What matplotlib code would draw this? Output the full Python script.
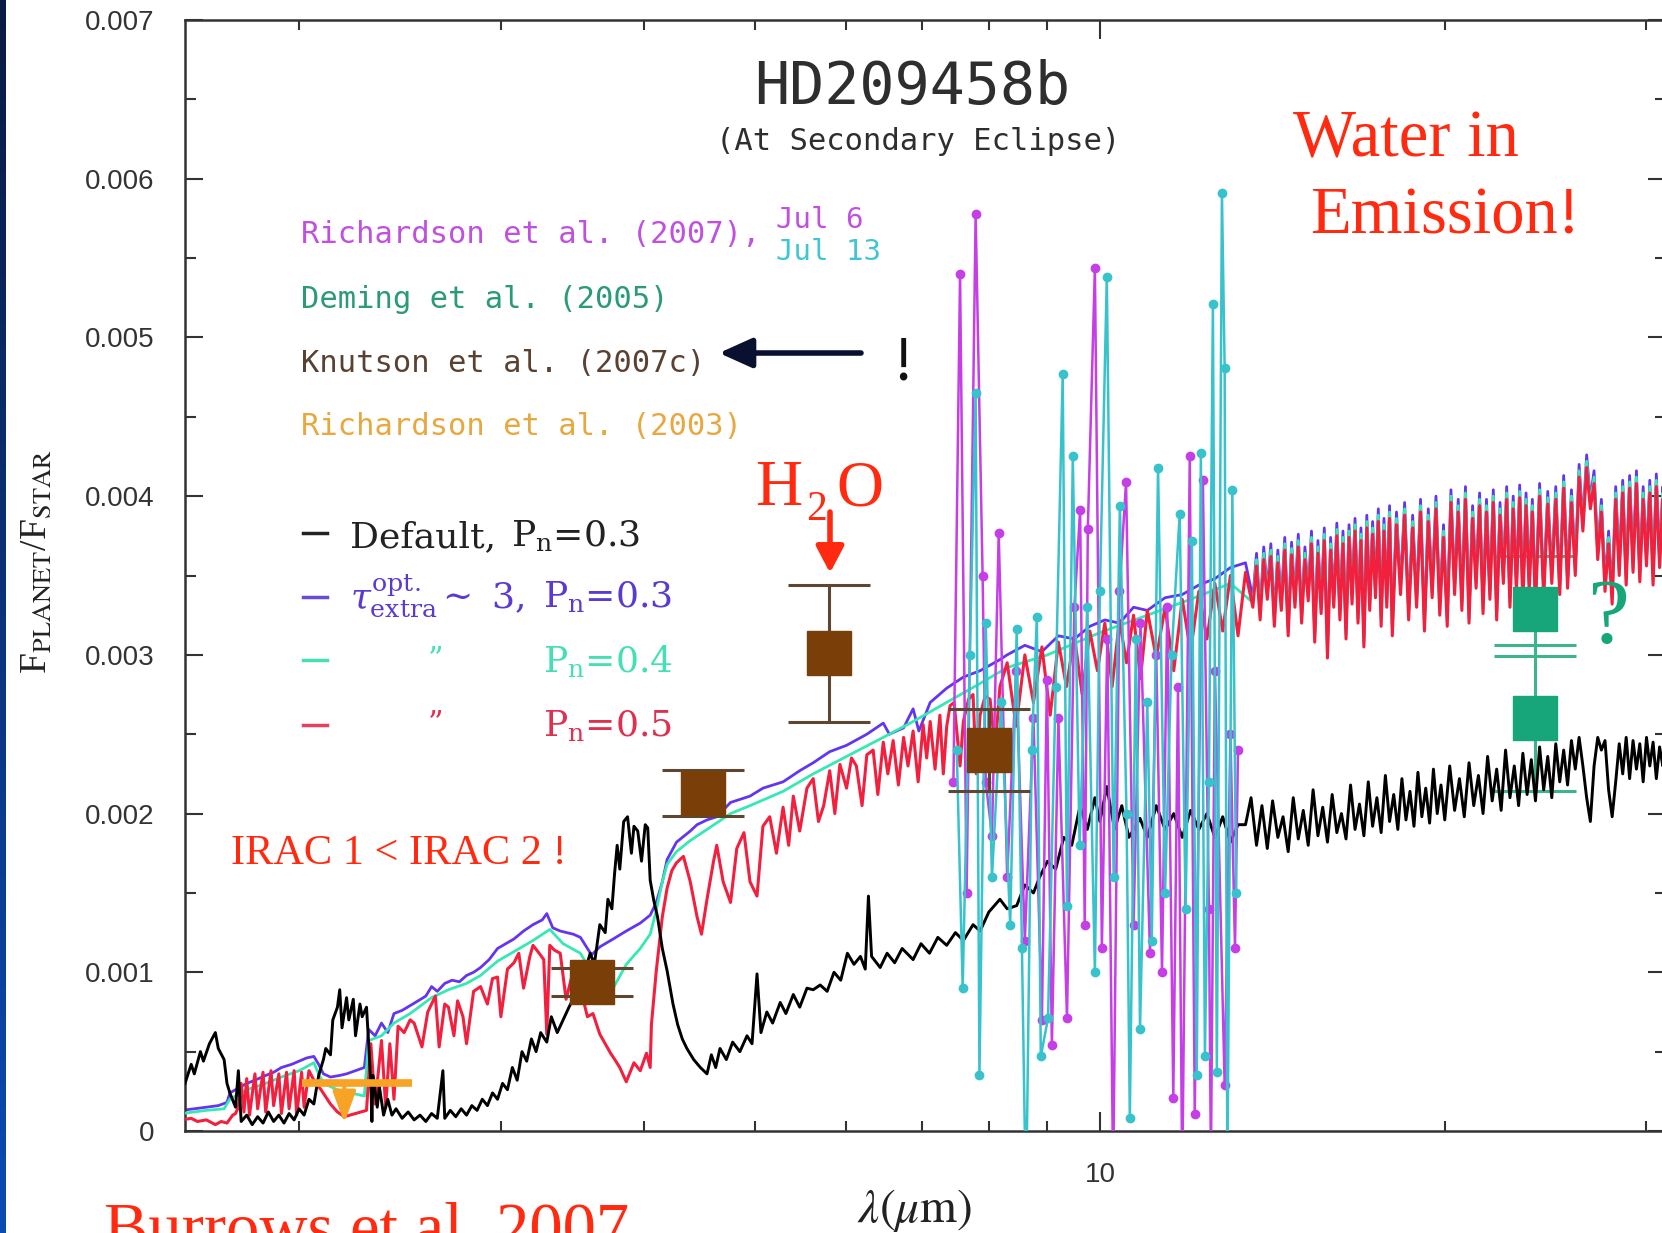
import numpy as np
import matplotlib
matplotlib.use("Agg")
import matplotlib.pyplot as plt
from matplotlib.lines import Line2D
from matplotlib.colors import LinearSegmentedColormap
from matplotlib.ticker import MultipleLocator, NullFormatter, FixedLocator

W, H = 1662, 1233

# ---------------- model spectra (flux ratio in units of 1e-3) ----------------
# Default model, P_n = 0.3
wl_default = [1.59, 1.61, 1.62, 1.64, 1.65, 1.67, 1.69, 1.70, 1.72, 1.73,
              1.74, 1.76, 1.77, 1.78, 1.80, 1.82, 1.84, 1.86, 1.88, 1.90,
              1.92, 1.94, 1.96, 1.98, 2.00, 2.02, 2.04, 2.06, 2.08, 2.10,
              2.11, 2.13, 2.14, 2.16, 2.17, 2.18, 2.20, 2.21, 2.23, 2.24,
              2.26, 2.27, 2.29, 2.30, 2.31, 2.315, 2.32, 2.34, 2.35, 2.37,
              2.39, 2.41, 2.43, 2.46, 2.49, 2.52, 2.55, 2.58, 2.61, 2.64,
              2.67, 2.68, 2.71, 2.74, 2.77, 2.80, 2.83, 2.86, 2.89, 2.92,
              2.95, 2.98, 3.01, 3.04, 3.07, 3.10, 3.13, 3.16, 3.19, 3.22,
              3.25, 3.29, 3.32, 3.36, 3.40, 3.44, 3.48, 3.52, 3.55, 3.59,
              3.62, 3.66, 3.70, 3.72, 3.75, 3.77, 3.79, 3.81, 3.84, 3.87,
              3.90, 3.92, 3.95, 3.98, 4.01, 4.03, 4.05, 4.08, 4.11, 4.15,
              4.19, 4.24, 4.28, 4.32, 4.36, 4.42, 4.48, 4.54, 4.58, 4.62,
              4.66, 4.72, 4.78, 4.85, 4.92, 4.97, 5.02, 5.06, 5.12, 5.18,
              5.26, 5.32, 5.40, 5.47, 5.55, 5.62, 5.70, 5.78, 5.86, 5.94,
              6.02, 6.10, 6.18, 6.24, 6.28, 6.32, 6.43, 6.52, 6.62, 6.72,
              6.87, 6.98, 7.10, 7.22, 7.35, 7.48, 7.60, 7.75, 7.86, 8.00,
              8.18, 8.30, 8.46, 8.60, 8.75, 8.86, 9.00, 9.15, 9.30, 9.45,
              9.61, 9.75, 9.90, 10.00, 10.14, 10.30, 10.45, 10.60, 10.84, 11.00,
              11.20, 11.40, 11.60, 11.80, 12.00, 12.20, 12.40, 12.60, 12.80, 13.00,
              13.20,
              13.40, 13.55, 13.70, 13.85, 14.00, 14.15, 14.30, 14.45, 14.60, 14.75,
              14.90, 15.05, 15.20, 15.35, 15.50, 15.65, 15.80, 15.95, 16.10, 16.25,
              16.40, 16.55, 16.70, 16.85, 17.00, 17.15, 17.30, 17.45, 17.60, 17.75,
              17.90, 18.05, 18.20, 18.35, 18.50, 18.65, 18.80, 18.95, 19.10, 19.25,
              19.40, 19.55, 19.70, 19.85, 20.00, 20.20, 20.40, 20.60, 20.80, 21.00,
              21.20, 21.40, 21.60, 21.80, 22.00, 22.20, 22.40, 22.60, 22.80, 23.00,
              23.20, 23.40, 23.60, 23.80, 24.00, 24.20, 24.40, 24.60, 24.80, 25.00,
              25.20, 25.40, 25.60, 25.80, 26.00, 26.20, 26.40, 26.60, 26.80, 27.00,
              27.20, 27.40, 27.60, 27.80, 28.00, 28.20, 28.40, 28.60, 28.80, 29.00,
              29.20, 29.40, 29.60, 29.80, 30.00, 30.20, 30.40, 30.60, 30.80, 31.00,
              31.20]
f_default = [0.30, 0.42, 0.36, 0.50, 0.44, 0.55, 0.62, 0.52, 0.45, 0.30,
             0.24, 0.15, 0.38, 0.06, 0.10, 0.04, 0.09, 0.05, 0.12, 0.06,
             0.10, 0.05, 0.11, 0.07, 0.14, 0.10, 0.20, 0.17, 0.35, 0.45,
             0.52, 0.48, 0.70, 0.78, 0.89, 0.65, 0.84, 0.70, 0.83, 0.60,
             0.80, 0.72, 0.78, 0.55, 0.30, 0.06, 0.35, 0.15, 0.28, 0.10,
             0.20, 0.10, 0.14, 0.08, 0.12, 0.07, 0.10, 0.06, 0.11, 0.08,
             0.38, 0.08, 0.13, 0.09, 0.14, 0.10, 0.16, 0.13, 0.20, 0.16,
             0.24, 0.20, 0.30, 0.26, 0.40, 0.32, 0.50, 0.44, 0.58, 0.50,
             0.62, 0.56, 0.72, 0.62, 0.70, 0.78, 0.85, 0.92, 1.00, 1.12,
             1.05, 1.30, 1.25, 1.46, 1.40, 1.62, 1.80, 1.65, 1.95, 1.98,
             1.75, 1.92, 1.89, 1.70, 1.93, 1.91, 1.58, 1.45, 1.35, 1.15,
             1.01, 0.80, 0.67, 0.58, 0.52, 0.45, 0.40, 0.36, 0.48, 0.40,
             0.52, 0.45, 0.56, 0.50, 0.60, 0.55, 0.99, 0.62, 0.75, 0.68,
             0.81, 0.74, 0.86, 0.78, 0.90, 0.89, 0.92, 0.88, 1.00, 0.95,
             1.12, 1.05, 1.10, 1.02, 1.48, 1.10, 1.03, 1.12, 1.06, 1.15,
             1.08, 1.18, 1.12, 1.22, 1.17, 1.25, 1.20, 1.30, 1.26, 1.38,
             1.46, 1.40, 1.42, 1.55, 1.50, 1.60, 1.70, 1.65, 1.85, 1.80,
             2.05, 1.90, 2.10, 1.95, 2.17, 1.90, 2.05, 1.85, 1.97, 1.85,
             2.05, 1.90, 2.00, 1.85, 2.02, 1.90, 2.00, 1.85, 1.98, 1.82,
             1.93,
             1.93, 2.10, 1.80, 2.05, 1.78, 2.08, 1.85, 1.98, 1.76, 2.10,
             1.84, 2.02, 1.80, 2.15, 1.86, 2.04, 1.82, 2.12, 1.88, 2.00,
             1.84, 2.18, 1.90, 2.06, 1.86, 2.20, 1.92, 2.10, 1.88, 2.24,
             1.95, 2.12, 1.90, 2.22, 1.96, 2.14, 1.92, 2.26, 1.98, 2.16,
             1.94, 2.28, 2.00, 2.18, 1.96, 2.30, 2.02, 2.22, 1.98, 2.32,
             2.05, 2.24, 2.00, 2.36, 2.08, 2.28, 2.02, 2.40, 2.10, 2.30,
             2.05, 2.38, 2.12, 2.34, 2.08, 2.42, 2.15, 2.36, 2.10, 2.44,
             2.20, 2.40, 2.18, 2.46, 2.28, 2.48, 2.30, 2.10, 1.95, 2.30,
             2.48, 2.40, 2.46, 2.15, 1.98, 2.20, 2.44, 2.25, 2.48, 2.22,
             2.46, 2.28, 2.44, 2.20, 2.48, 2.30, 2.45, 2.22, 2.42, 2.30,
             2.40]

# shared wavelength grid for the long-wavelength part of the tau_extra models
wl_band = [13.6, 13.7, 13.8, 13.9, 14.0, 14.1, 14.2, 14.3, 14.4, 14.5,
           14.6, 14.7, 14.8, 14.9, 15.0, 15.1, 15.2, 15.3, 15.4, 15.5,
           15.6, 15.7, 15.8, 15.9, 16.0, 16.1, 16.2, 16.3, 16.4, 16.5,
           16.6, 16.7, 16.8, 16.9, 17.0, 17.1, 17.2, 17.3, 17.4, 17.5,
           17.6, 17.7, 17.8, 17.9, 18.0, 18.15, 18.3, 18.45, 18.6, 18.75,
           18.9, 19.05, 19.2, 19.35, 19.5, 19.65, 19.8, 19.95, 20.1, 20.25,
           20.4, 20.55, 20.7, 20.85, 21.0, 21.15, 21.3, 21.45, 21.6, 21.75,
           21.9, 22.05, 22.2, 22.35, 22.5, 22.65, 22.8, 22.95, 23.1, 23.25,
           23.4, 23.55, 23.7, 23.85, 24.0, 24.2, 24.4, 24.6, 24.8, 25.0,
           25.2, 25.4, 25.6, 25.8, 26.0, 26.2, 26.4, 26.6, 26.8, 27.0,
           27.2, 27.4, 27.6, 27.8, 28.0, 28.2, 28.4, 28.6, 28.8, 29.0,
           29.2, 29.4, 29.6, 29.8, 30.0, 30.2, 30.4, 30.6, 30.8, 31.0,
           31.2]

# tau_extra ~ 3, P_n = 0.5
wl_pn05 = [1.58, 1.61, 1.63, 1.66, 1.69, 1.71, 1.73, 1.75, 1.76, 1.77,
           1.78, 1.79, 1.80, 1.81, 1.83, 1.84, 1.86, 1.87, 1.89, 1.90,
           1.92, 1.93, 1.95, 1.96, 1.98, 1.99, 2.01, 2.02, 2.04, 2.06,
           2.09, 2.13, 2.16, 2.19, 2.24, 2.29, 2.31, 2.33, 2.36, 2.38,
           2.40, 2.42, 2.44, 2.47, 2.50, 2.52, 2.56, 2.59, 2.63, 2.65,
           2.68, 2.70, 2.73, 2.75, 2.78, 2.80, 2.84, 2.88, 2.92, 2.95,
           2.98, 3.00, 3.04, 3.08, 3.11, 3.14, 3.18, 3.20, 3.24, 3.27,
           3.29, 3.31, 3.34, 3.38, 3.42, 3.47, 3.52, 3.57, 3.61, 3.66,
           3.70, 3.74, 3.78, 3.81, 3.86, 3.92, 3.97, 4.02, 4.05, 4.06,
           4.10, 4.15, 4.19, 4.23, 4.27, 4.33, 4.39, 4.45, 4.49, 4.54,
           4.60, 4.63, 4.69, 4.76, 4.82, 4.89, 4.95, 5.02, 5.08, 5.15,
           5.22, 5.29, 5.35, 5.40, 5.47, 5.55, 5.62, 5.68, 5.74, 5.81,
           5.87, 5.93, 6.01, 6.07, 6.13, 6.20, 6.26, 6.34, 6.40, 6.47,
           6.53, 6.60, 6.67, 6.74, 6.80, 6.87, 6.94, 7.01, 7.06, 7.11,
           7.18, 7.25, 7.30, 7.35, 7.40, 7.46, 7.55, 7.60, 7.68, 7.75,
           7.80, 7.86, 7.94, 8.02, 8.10, 8.18, 8.30, 8.45, 8.60, 8.75,
           8.90, 9.05, 9.20, 9.35, 9.50, 9.65, 9.80, 9.95, 10.10, 10.25,
           10.40, 10.55, 10.70, 10.85, 11.00, 11.20, 11.40, 11.60, 11.80, 12.00,
           12.20, 12.40, 12.60, 12.80, 13.00, 13.20, 13.40]
f_pn05 = [0.07, 0.08, 0.06, 0.07, 0.04, 0.06, 0.05, 0.10, 0.11, 0.15,
          0.30, 0.12, 0.33, 0.10, 0.36, 0.14, 0.37, 0.12, 0.38, 0.16,
          0.36, 0.11, 0.37, 0.14, 0.38, 0.10, 0.37, 0.15, 0.38, 0.32,
          0.26, 0.17, 0.12, 0.09, 0.11, 0.13, 0.55, 0.17, 0.57, 0.15,
          0.55, 0.20, 0.66, 0.62, 0.70, 0.68, 0.53, 0.75, 0.85, 0.53,
          0.80, 0.78, 0.60, 0.82, 0.72, 0.55, 0.88, 0.91, 0.80, 0.96,
          0.97, 0.72, 1.02, 1.06, 1.12, 0.90, 1.10, 1.17, 1.12, 1.08,
          0.61, 1.17, 1.14, 1.12, 0.83, 1.01, 0.90, 0.72, 0.74, 0.61,
          0.55, 0.49, 0.44, 0.40, 0.31, 0.43, 0.38, 0.49, 0.40, 0.67,
          1.01, 1.35, 1.53, 1.64, 1.69, 1.73, 1.57, 1.35, 1.24, 1.46,
          1.70, 1.80, 1.57, 1.44, 1.78, 1.88, 1.57, 1.48, 1.92, 1.98,
          1.75, 2.04, 1.80, 2.11, 1.89, 2.16, 2.22, 1.95, 2.05, 2.27,
          2.00, 2.31, 2.16, 2.35, 2.30, 2.05, 2.37, 2.40, 2.12, 2.45,
          2.25, 2.46, 2.18, 2.48, 2.30, 2.52, 2.20, 2.56, 2.35, 2.58,
          2.28, 2.62, 2.25, 2.55, 2.68, 2.70, 2.30, 2.58, 2.72, 2.75,
          2.25, 2.62, 2.74, 2.72, 2.40, 2.80, 2.95, 2.55, 3.00, 2.70,
          3.05, 2.62, 3.08, 2.80, 3.12, 2.75, 3.15, 2.90, 3.20, 2.80,
          3.22, 2.95, 3.25, 2.85, 3.28, 2.98, 3.30, 2.90, 3.35, 3.02,
          3.40, 3.10, 3.45, 3.15, 3.50, 3.12, 3.52]
f_pn05_band = [3.30, 3.56, 3.22, 3.60, 3.35, 3.62, 3.18, 3.58, 3.28, 3.66,
               3.12, 3.63, 3.30, 3.68, 3.20, 3.60, 3.34, 3.70, 3.08, 3.64,
               3.26, 3.72, 2.98, 3.66, 3.30, 3.75, 3.22, 3.70, 3.10, 3.74,
               3.32, 3.78, 3.20, 3.72, 3.05, 3.80, 3.28, 3.76, 3.36, 3.84,
               3.18, 3.78, 3.30, 3.86, 3.12, 3.82, 3.38, 3.88, 3.22, 3.80,
               3.30, 3.90, 3.15, 3.84, 3.36, 3.92, 3.25, 3.74, 3.18, 3.96,
               3.38, 3.90, 3.28, 3.98, 3.20, 3.86, 3.42, 3.94, 3.26, 3.90,
               3.35, 3.96, 3.22, 3.88, 3.45, 3.98, 3.30, 3.92, 3.40, 3.99,
               3.32, 3.94, 3.40, 3.90, 3.30, 4.00, 3.36, 3.95, 3.45, 3.98,
               3.38, 4.05, 3.42, 3.96, 3.50, 4.12, 3.78, 4.18, 3.92, 4.08,
               3.60, 3.90, 3.40, 3.70, 3.32, 3.98, 3.50, 4.02, 3.44, 4.05,
               3.52, 4.08, 3.46, 3.98, 3.56, 4.02, 3.44, 4.06, 3.55, 3.98,
               3.62]

# tau_extra ~ 3, P_n = 0.3
wl_tau = [1.58, 1.62, 1.66, 1.70, 1.73, 1.74, 1.77, 1.80, 1.83, 1.87,
          1.90, 1.93, 1.97, 2.00, 2.03, 2.06, 2.08, 2.10, 2.13, 2.17,
          2.20, 2.24, 2.28, 2.30, 2.33, 2.36, 2.39, 2.42, 2.46, 2.50,
          2.54, 2.58, 2.61, 2.64, 2.68, 2.72, 2.76, 2.80, 2.84, 2.88,
          2.93, 2.98, 3.03, 3.08, 3.14, 3.20, 3.26, 3.29, 3.33, 3.38,
          3.47, 3.52, 3.57, 3.60, 3.66, 3.76, 3.86, 3.97, 4.05, 4.10,
          4.15, 4.19, 4.27, 4.39, 4.45, 4.54, 4.63, 4.76, 4.95, 5.08,
          5.29, 5.47, 5.62, 5.81, 6.01, 6.26, 6.47, 6.55, 6.74, 6.87,
          6.95, 7.11, 7.35, 7.60, 7.86, 8.18, 8.30, 8.60, 8.90, 9.20,
          9.50, 9.80, 10.10, 10.40, 10.70, 11.00, 11.40, 11.80, 12.20, 12.60,
          13.00, 13.40]
f_tau = [0.13, 0.14, 0.15, 0.16, 0.18, 0.24, 0.27, 0.30, 0.32, 0.35,
         0.37, 0.40, 0.42, 0.44, 0.46, 0.47, 0.42, 0.36, 0.34, 0.35,
         0.36, 0.38, 0.40, 0.64, 0.60, 0.68, 0.62, 0.74, 0.76, 0.79,
         0.82, 0.85, 0.91, 0.88, 0.93, 0.95, 0.94, 0.98, 1.00, 1.03,
         1.08, 1.15, 1.18, 1.21, 1.26, 1.30, 1.33, 1.37, 1.28, 1.26,
         1.24, 1.22, 1.15, 1.11, 1.16, 1.21, 1.26, 1.31, 1.36, 1.44,
         1.57, 1.71, 1.82, 1.89, 1.93, 1.96, 1.98, 2.07, 2.11, 2.16,
         2.20, 2.27, 2.32, 2.39, 2.43, 2.50, 2.57, 2.50, 2.54, 2.66,
         2.52, 2.70, 2.79, 2.86, 2.90, 2.97, 3.00, 3.06, 3.02, 3.12,
         3.10, 3.18, 3.22, 3.20, 3.30, 3.28, 3.36, 3.38, 3.44, 3.48,
         3.55, 3.58]
f_tau_band = [3.36, 3.64, 3.28, 3.68, 3.41, 3.70, 3.24, 3.66, 3.34, 3.74,
              3.18, 3.71, 3.36, 3.76, 3.26, 3.68, 3.40, 3.78, 3.14, 3.72,
              3.32, 3.80, 3.04, 3.74, 3.36, 3.83, 3.28, 3.78, 3.16, 3.82,
              3.38, 3.86, 3.26, 3.80, 3.11, 3.88, 3.34, 3.84, 3.42, 3.92,
              3.24, 3.86, 3.36, 3.94, 3.18, 3.90, 3.44, 3.96, 3.28, 3.88,
              3.36, 3.98, 3.21, 3.92, 3.42, 4.00, 3.31, 3.82, 3.24, 4.04,
              3.44, 3.98, 3.34, 4.06, 3.26, 3.94, 3.48, 4.02, 3.32, 3.98,
              3.41, 4.04, 3.28, 3.96, 3.51, 4.06, 3.36, 4.00, 3.46, 4.07,
              3.38, 4.02, 3.46, 3.98, 3.36, 4.08, 3.42, 4.03, 3.51, 4.06,
              3.44, 4.13, 3.48, 4.04, 3.56, 4.20, 3.84, 4.26, 3.98, 4.16,
              3.66, 3.98, 3.46, 3.78, 3.38, 4.06, 3.56, 4.10, 3.50, 4.13,
              3.58, 4.16, 3.52, 4.06, 3.62, 4.10, 3.50, 4.14, 3.61, 4.06,
              3.68]

# tau_extra ~ 3, P_n = 0.4
wl_pn04 = [1.58, 1.66, 1.72, 1.74, 1.80, 1.87, 1.93, 2.00, 2.06, 2.08,
           2.10, 2.16, 2.22, 2.28, 2.30, 2.36, 2.42, 2.50, 2.61, 2.70,
           2.80, 2.88, 2.98, 3.08, 3.20, 3.31, 3.40, 3.52, 3.60, 3.66,
           3.76, 3.86, 3.97, 4.05, 4.10, 4.15, 4.19, 4.27, 4.39, 4.54,
           4.76, 4.95, 5.29, 5.62, 6.01, 6.47, 6.87, 7.35, 7.86, 8.30,
           9.00, 10.00, 11.00, 12.00, 13.00]
f_pn04 = [0.11, 0.13, 0.14, 0.20, 0.26, 0.30, 0.34, 0.38, 0.43, 0.36,
          0.30, 0.26, 0.24, 0.22, 0.57, 0.60, 0.68, 0.74, 0.84, 0.89,
          0.93, 0.98, 1.07, 1.13, 1.20, 1.27, 1.18, 1.12, 1.00, 0.92,
          0.90, 1.05, 1.15, 1.24, 1.39, 1.57, 1.68, 1.76, 1.83, 1.90,
          2.00, 2.05, 2.14, 2.25, 2.36, 2.48, 2.58, 2.70, 2.82, 2.92,
          3.00, 3.14, 3.25, 3.35, 3.45]
f_pn04_band = [3.33, 3.60, 3.25, 3.64, 3.38, 3.66, 3.21, 3.62, 3.31, 3.70,
               3.15, 3.67, 3.33, 3.72, 3.23, 3.64, 3.37, 3.74, 3.11, 3.68,
               3.29, 3.76, 3.01, 3.70, 3.33, 3.79, 3.25, 3.74, 3.13, 3.78,
               3.35, 3.82, 3.23, 3.76, 3.08, 3.84, 3.31, 3.80, 3.39, 3.88,
               3.21, 3.82, 3.33, 3.90, 3.15, 3.86, 3.41, 3.92, 3.25, 3.84,
               3.33, 3.94, 3.18, 3.88, 3.39, 3.96, 3.28, 3.78, 3.21, 4.00,
               3.41, 3.94, 3.31, 4.02, 3.23, 3.90, 3.45, 3.98, 3.29, 3.94,
               3.38, 4.00, 3.25, 3.92, 3.48, 4.02, 3.33, 3.96, 3.43, 4.03,
               3.35, 3.98, 3.43, 3.94, 3.33, 4.04, 3.39, 3.99, 3.48, 4.02,
               3.41, 4.09, 3.45, 4.00, 3.53, 4.16, 3.81, 4.22, 3.95, 4.12,
               3.63, 3.94, 3.43, 3.74, 3.35, 4.02, 3.53, 4.06, 3.47, 4.09,
               3.55, 4.12, 3.49, 4.02, 3.59, 4.06, 3.47, 4.10, 3.58, 4.02,
               3.65]

# ---------------- observations ----------------
# Richardson et al. (2007) IRS spectra
wl_rich_jul6 = [7.45, 7.55, 7.65, 7.79, 7.90, 7.95, 8.05, 8.16, 8.30, 8.45,
                8.60, 8.75, 8.90, 8.99, 9.08, 9.20, 9.36, 9.50, 9.61, 9.70,
                9.76, 9.90, 10.04, 10.15, 10.27, 10.40, 10.54, 10.70, 10.85, 11.06,
                11.20, 11.33, 11.45, 11.59, 11.70, 11.80, 11.98, 12.10, 12.30, 12.45,
                12.50, 12.60, 12.85, 13.00, 13.12, 13.20]
f_rich_jul6 = [2.20, 5.40, 1.50, 5.78, 3.50, 2.20, 1.86, 3.77, 1.60, 2.90,
               1.20, 2.60, 0.70, 2.84, 0.54, 2.60, 0.71, 3.30, 3.91, 1.30,
               3.79, 5.44, 1.15, 3.10, -0.30, 3.40, 4.09, 1.30, 3.20, 1.12,
               3.00, 1.00, 3.30, 0.21, 2.80, -0.30, 4.25, 0.11, 4.10, 1.40,
               -0.20, 2.90, 0.29, 2.50, 1.15, 2.40]
wl_rich_jul13 = [7.50, 7.59, 7.70, 7.79, 7.85, 7.95, 8.05, 8.20, 8.35, 8.46,
                 8.55, 8.62, 8.72, 8.81, 8.88, 9.01, 9.15, 9.28, 9.36, 9.47,
                 9.60, 9.75, 9.90, 10.00, 10.14, 10.28, 10.41, 10.55, 10.62, 10.75,
                 10.84, 11.00, 11.10, 11.24, 11.40, 11.55, 11.74, 11.88, 12.03, 12.15,
                 12.25, 12.35, 12.45, 12.55, 12.65, 12.78, 12.85, 12.92, 13.05, 13.15]
f_rich_jul13 = [2.40, 0.90, 3.00, 4.65, 0.35, 3.20, 1.60, 2.70, 1.30, 3.16,
                1.15, -0.50, 2.40, 3.24, 0.47, 0.71, 2.80, 4.77, 1.42, 4.25,
                1.80, 3.30, 1.00, 3.40, 5.38, 1.60, 3.94, 2.00, 0.08, 3.10,
                0.64, 2.70, 1.20, 4.18, 1.50, 3.00, 3.89, 1.40, 3.72, 0.35,
                4.27, 0.47, 2.20, 5.21, 0.37, 5.91, 4.81, -0.30, 4.04, 1.50]

# Knutson et al. (2007c) IRAC photometry
wl_knutson = [3.6, 4.5, 5.8, 8.0]
f_knutson = [0.94, 2.13, 3.01, 2.40]
err_knutson = [0.09, 0.145, 0.43, 0.26]

# Deming et al. (2005) MIPS 24 micron, plus the higher alternative value
wl_deming = [24.0, 24.0]
f_deming = [2.60, 3.29]
err_deming_low = [0.46, 0.30]
err_deming_high = [0.46, 0.33]

# Richardson et al. (2003) upper limit
wl_limit = [2.01, 2.51]
wl_limit_arrow = 2.19
f_limit = 0.30
f_limit_tip = 0.05

ytick_vals = [0, 0.001, 0.002, 0.003, 0.004, 0.005, 0.006, 0.007]
ytick_text = ["0", "0.001", "0.002", "0.003", "0.004", "0.005", "0.006", "0.007"]
xtick_major = [10]
xtick_minor = [2, 3, 4, 5, 6, 7, 8, 9, 20, 30]

# ---------------- colours ----------------
C_TAU = "#6236f0"
C_PN04 = "#36e8b4"
C_PN05 = "#f2203e"
C_JUL6 = "#c63ee6"
C_JUL13 = "#38c2cc"
C_BROWN = "#7a3f08"
C_DEMING = "#17a57a"
C_ORANGE = "#f7a325"
C_RED = "#ff2a10"

E = 1e-3


def fx(x):
    return x / W


def fy(y):
    return 1 - y / H


fig = plt.figure(figsize=(W / 100, H / 100), dpi=100)
fig.patch.set_facecolor("white")

# dark blue slide border on the left
strip = fig.add_axes([0, 0, 6 / W, 1])
strip.imshow(np.linspace(0, 1, 256).reshape(-1, 1), aspect="auto",
             cmap=LinearSegmentedColormap.from_list("edge", ["#0a1a42", "#0a4cb4"]))
strip.set_axis_off()

ax = fig.add_axes([fx(185), fy(1131), (1666 - 185) / W, (1131 - 20) / H])
ax.set_xscale("log")
ax.set_xlim(1.59, 31.2)
ax.set_ylim(0, 0.007)

ax.plot(wl_tau + wl_band, np.array(f_tau + f_tau_band) * E, color=C_TAU, lw=2.0, zorder=2)
ax.plot(wl_pn04 + wl_band, np.array(f_pn04 + f_pn04_band) * E, color=C_PN04, lw=2.0, zorder=3)
ax.plot(wl_pn05 + wl_band, np.array(f_pn05 + f_pn05_band) * E, color=C_PN05, lw=2.2, zorder=4)
ax.plot(wl_default, np.array(f_default) * E, color="black", lw=2.1, zorder=5)

ax.plot(wl_rich_jul6, np.array(f_rich_jul6) * E, color=C_JUL6, lw=1.8, marker="o",
        ms=6, zorder=6)
ax.plot(wl_rich_jul13, np.array(f_rich_jul13) * E, color=C_JUL13, lw=1.8, marker="o",
        ms=6, zorder=7)

# upper limit bar with downward arrow
ax.plot(wl_limit, [f_limit * E] * 2, color=C_ORANGE, lw=5.5, solid_capstyle="butt", zorder=8)
ax.annotate("", xy=(wl_limit_arrow, f_limit_tip * E), xytext=(wl_limit_arrow, f_limit * E),
            arrowprops=dict(arrowstyle="-|>,head_length=0.95,head_width=0.35",
                            mutation_scale=20, color=C_ORANGE, lw=3, shrinkA=0, shrinkB=0),
            zorder=8)

ax.errorbar(wl_knutson, np.array(f_knutson) * E, yerr=np.array(err_knutson) * E,
            fmt="s", ms=31, mfc=C_BROWN, mec=C_BROWN, ecolor="#5e4630",
            elinewidth=2.2, capsize=29.5, capthick=2.2, zorder=10)
# Deming error bars sit beneath the model band, the squares on top
ax.errorbar(wl_deming, np.array(f_deming) * E,
            yerr=[np.array(err_deming_low) * E, np.array(err_deming_high) * E],
            fmt="none", ecolor="#3db58c", elinewidth=2.2, capsize=29.5, capthick=2.2,
            zorder=3.5)
ax.plot(wl_deming, np.array(f_deming) * E, "s", ms=31, mfc=C_DEMING, mec=C_DEMING,
        zorder=10)

# axes styling
ax.set_xticks(xtick_major)
ax.set_xticklabels(["10"])
ax.xaxis.set_minor_locator(FixedLocator(xtick_minor))
ax.xaxis.set_minor_formatter(NullFormatter())
ax.set_yticks(ytick_vals)
ax.set_yticklabels(ytick_text)
ax.yaxis.set_minor_locator(MultipleLocator(0.0005))
ax.tick_params(which="both", direction="in", top=True, right=True, width=1.5,
               colors="#333333", labelsize=20)
ax.tick_params(axis="y", which="major", length=13, pad=22)
ax.tick_params(axis="y", which="minor", length=8)
ax.tick_params(axis="x", which="major", length=14, pad=22)
ax.tick_params(axis="x", which="minor", length=7)
for lab in ax.get_xticklabels() + ax.get_yticklabels():
    lab.set_family("Liberation Sans")
for sp in ax.spines.values():
    sp.set_color("#333333")
    sp.set_linewidth(1.8)

# axis titles
fig.text(fx(37), fy(562), r"F$_{\rm PLANET}$/F$_{\rm STAR}$", rotation=90,
         family="Liberation Serif", math_fontfamily="stix", fontsize=27,
         ha="center", va="center", color="#222222")
fig.text(fx(857), fy(1222), r"$\lambda(\mu{\rm m})$", math_fontfamily="stix",
         fontsize=34, ha="left", va="baseline", color="#222222")

# plot title
mono = "DejaVu Sans Mono"
fig.text(fx(912), fy(104), "HD209458b", family=mono, fontsize=42, color="#2e2e2e",
         ha="center", va="baseline")
fig.text(fx(918), fy(150), "(At Secondary Eclipse)", family=mono, fontsize=22,
         color="#2e2e2e", ha="center", va="baseline")

# data legend
fig.text(fx(301), fy(243), "Richardson et al. (2007),", family=mono, fontsize=22,
         color="#c050e0", va="baseline")
fig.text(fx(776), fy(228), "Jul 6", family=mono, fontsize=21, color="#c050e0", va="baseline")
fig.text(fx(776), fy(260), "Jul 13", family=mono, fontsize=21, color="#40c6d0", va="baseline")
fig.text(fx(301), fy(308), "Deming et al. (2005)", family=mono, fontsize=22,
         color="#2a9a78", va="baseline")
fig.text(fx(301), fy(372), "Knutson et al. (2007c)", family=mono, fontsize=22,
         color="#5a4232", va="baseline")
fig.text(fx(301), fy(435), "Richardson et al. (2003)", family=mono, fontsize=22,
         color="#e8a840", va="baseline")

# model legend
serif = "DejaVu Serif"
for y, col in [(533, "#222222"), (597, "#6a4ad8"), (660, "#44e0b4"), (725, "#e84060")]:
    fig.add_artist(Line2D([fx(303), fx(327)], [fy(y), fy(y)], color=col, lw=2.5))
fig.text(fx(350), fy(547), "Default,", family=serif, fontsize=26, color="#222222",
         va="baseline")
fig.text(fx(511), fy(547), r"P$_{\rm n}$=0.3", family=serif, math_fontfamily="dejavuserif",
         fontsize=26, color="#222222", va="baseline")
fig.text(fx(350), fy(608), r"$\tau^{\rm opt.}_{\rm extra}$", math_fontfamily="dejavuserif",
         fontsize=26, color="#5a3ad0", va="baseline")
fig.text(fx(436), fy(608), r"$\sim$ 3,", family=serif, math_fontfamily="dejavuserif",
         fontsize=26, color="#5a3ad0", va="baseline")
fig.text(fx(543), fy(608), r"P$_{\rm n}$=0.3", family=serif, math_fontfamily="dejavuserif",
         fontsize=26, color="#5a3ad0", va="baseline")
fig.text(fx(428), fy(668), "\u201d", family=serif, fontsize=22, color="#44e0b4", va="baseline")
fig.text(fx(543), fy(673), r"P$_{\rm n}$=0.4", family=serif, math_fontfamily="dejavuserif",
         fontsize=26, color="#44e0b4", va="baseline")
fig.text(fx(428), fy(732), "\u201d", family=serif, fontsize=22, color="#e03050", va="baseline")
fig.text(fx(543), fy(737), r"P$_{\rm n}$=0.5", family=serif, math_fontfamily="dejavuserif",
         fontsize=26, color="#e03050", va="baseline")

# arrow pointing at the Knutson entry
ax.annotate("", xy=(719, H - 353), xycoords="figure pixels",
            xytext=(861, H - 353), textcoords="figure pixels",
            arrowprops=dict(arrowstyle="-|>,head_length=1.0,head_width=0.45",
                            mutation_scale=20, color="#0a1030", lw=4, shrinkA=0, shrinkB=0),
            annotation_clip=False)
fig.text(fx(903), fy(380), "!", family="Liberation Serif", fontsize=46, color="#111111",
         ha="center", va="baseline")

# red annotations
rs = "Liberation Serif"
fig.text(fx(1293), fy(157), "Water in", family=rs, fontsize=48, color=C_RED, va="baseline")
fig.text(fx(1310), fy(233), "Emission!", family=rs, fontsize=48, color=C_RED, va="baseline")
fig.text(fx(755), fy(505), "H", family=rs, fontsize=47, color=C_RED, va="baseline")
fig.text(fx(806), fy(520), "2", family=rs, fontsize=30, color=C_RED, va="baseline")
fig.text(fx(836), fy(505), "O", family=rs, fontsize=47, color=C_RED, va="baseline")
ax.annotate("", xy=(830, H - 573), xycoords="figure pixels",
            xytext=(830, H - 512), textcoords="figure pixels",
            arrowprops=dict(arrowstyle="-|>,head_length=0.8,head_width=0.42",
                            mutation_scale=20, color=C_RED, lw=4, shrinkA=0, shrinkB=0),
            annotation_clip=False)
fig.text(fx(231), fy(864), "IRAC 1 < IRAC 2 !", family=rs, fontsize=30.5, color=C_RED,
         va="baseline")
fig.text(fx(104), fy(1249), "Burrows et al. 2007", family=rs, fontsize=48, color=C_RED,
         va="baseline")
fig.text(fx(1587), fy(643), "?", family=rs, fontsize=68, color=C_DEMING, va="baseline")

fig.savefig("out.png", dpi=100, facecolor="white")
